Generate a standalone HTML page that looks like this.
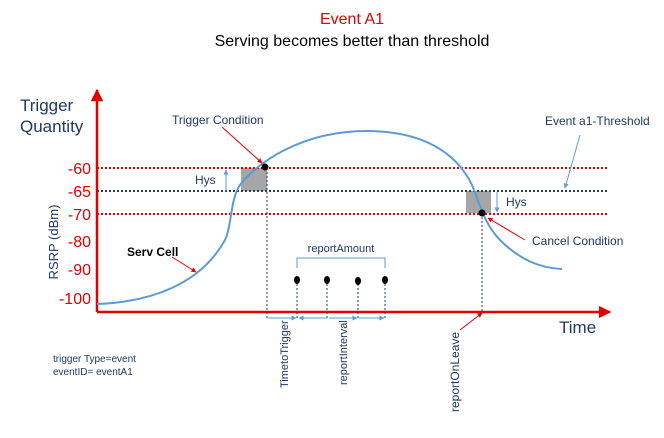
<!DOCTYPE html>
<html><head><style>
body{margin:0;background:#fff;}
svg text{font-family:"Liberation Sans",Arial,sans-serif;}
</style></head><body>
<svg width="664" height="433" viewBox="0 0 664 433" xmlns="http://www.w3.org/2000/svg">
<defs>
<marker id="ar" viewBox="0 0 10 10" refX="9" refY="5" markerWidth="5" markerHeight="5" orient="auto"><path d="M0,0L10,5L0,10z" fill="#e00000"/></marker>
<marker id="ab" viewBox="0 0 10 10" refX="9" refY="5" markerWidth="5" markerHeight="5" orient="auto"><path d="M0,0L10,5L0,10z" fill="#5b9bd5"/></marker>
</defs>
<text x="352" y="24" text-anchor="middle" font-size="16" fill="#e00000">Event A1</text>
<text x="352" y="46" text-anchor="middle" font-size="16" fill="#000">Serving becomes better than threshold</text>
<text x="20" y="111" font-size="17" fill="#1f3864">Trigger</text>
<text x="20" y="132" font-size="17" fill="#1f3864">Quantity</text>
<text transform="translate(58,242) rotate(-90)" text-anchor="middle" font-size="13" fill="#1f3864">RSRP (dBm)</text>
<g font-size="16" fill="#e00000" text-anchor="end">
<text x="91" y="174">-60</text><text x="91" y="197">-65</text><text x="91" y="220">-70</text>
<text x="91" y="247">-80</text><text x="91" y="275">-90</text><text x="91" y="304">-100</text>
</g>
<rect x="241" y="168" width="26" height="23" fill="#a6a6a6"/>
<rect x="466" y="191" width="25" height="22" fill="#a6a6a6"/>
<line x1="97" y1="168" x2="608" y2="168" stroke="#e00000" stroke-width="2" stroke-dasharray="2,2"/>
<line x1="97" y1="191" x2="608" y2="191" stroke="#1f3864" stroke-width="2" stroke-dasharray="2,2"/>
<line x1="97" y1="214" x2="608" y2="214" stroke="#e00000" stroke-width="2" stroke-dasharray="2,2"/>
<line x1="97" y1="312" x2="97" y2="90" stroke="#e00000" stroke-width="2.5" marker-end="url(#ar)"/>
<line x1="97" y1="312" x2="610" y2="312" stroke="#e00000" stroke-width="2.5" marker-end="url(#ar)"/>
<path d="M97,304 C150,302 200,285 225,240 C232,225 230,200 240,185 C255,165 300,130 370,131 C420,132 455,150 472,185 C480,205 485,225 500,240 C520,260 540,268 562,269" fill="none" stroke="#5b9bd5" stroke-width="2"/>
<g stroke="#1f3864" stroke-width="1" stroke-dasharray="2,2">
<line x1="267" y1="168" x2="267" y2="320"/><line x1="482" y1="213" x2="482" y2="312"/>
<line x1="297" y1="280" x2="297" y2="320"/><line x1="327" y1="280" x2="327" y2="320"/>
<line x1="358" y1="280" x2="358" y2="320"/><line x1="385" y1="280" x2="385" y2="320"/>
</g>
<g fill="#000"><circle cx="265" cy="167" r="3.5"/><circle cx="482" cy="213" r="3.5"/>
<ellipse cx="297" cy="280" rx="3" ry="4"/><ellipse cx="327" cy="280" rx="3" ry="4"/><ellipse cx="358" cy="281" rx="3" ry="4"/><ellipse cx="385" cy="280" rx="3" ry="4"/></g>
<path d="M297,268 V258 H385 V268" fill="none" stroke="#5b9bd5" stroke-width="1"/>
<text x="341" y="252" text-anchor="middle" font-size="11" fill="#1f3864">reportAmount</text>
<g stroke="#5b9bd5" stroke-width="1">
<line x1="268" y1="318" x2="296" y2="318" marker-end="url(#ab)"/>
<line x1="327" y1="318" x2="299" y2="318" marker-end="url(#ab)"/>
<line x1="329" y1="318" x2="357" y2="318" marker-end="url(#ab)"/>
<line x1="359" y1="318" x2="384" y2="318" marker-end="url(#ab)"/>
<line x1="226" y1="191" x2="226" y2="170" marker-end="url(#ab)"/>
<line x1="497" y1="192" x2="497" y2="212" marker-end="url(#ab)"/>
<line x1="580" y1="135" x2="565" y2="188" marker-end="url(#ab)"/>
</g>
<g stroke="#e00000" stroke-width="1">
<line x1="222" y1="127" x2="262" y2="163" marker-end="url(#ar)"/>
<line x1="172" y1="257" x2="196" y2="272" marker-end="url(#ar)"/>
<line x1="525" y1="240" x2="488" y2="218" marker-end="url(#ar)"/>
<line x1="460" y1="330" x2="482" y2="313" marker-end="url(#ar)"/>
</g>
<text x="172" y="124" font-size="12" fill="#1f3864">Trigger Condition</text>
<text x="545" y="125" font-size="12" fill="#1f3864">Event a1-Threshold</text>
<text x="195" y="184" font-size="12" fill="#1f3864">Hys</text>
<text x="506" y="206" font-size="12" fill="#1f3864">Hys</text>
<text x="532" y="245" font-size="12" fill="#1f3864">Cancel Condition</text>
<text x="127" y="256" font-size="12" font-weight="bold" fill="#000">Serv Cell</text>
<text x="559" y="333" font-size="17" fill="#1f3864">Time</text>
<text transform="translate(288,388) rotate(-90)" font-size="11" fill="#1f3864">TimetoTrigger</text>
<text transform="translate(347,385) rotate(-90)" font-size="11" fill="#1f3864">reportInterval</text>
<text transform="translate(459,412) rotate(-90)" font-size="12" fill="#1f3864">reportOnLeave</text>
<text x="53" y="362" font-size="10" fill="#1f3864">trigger Type=event</text>
<text x="53" y="375" font-size="10" fill="#1f3864">eventID= eventA1</text>
</svg>
</body></html>
